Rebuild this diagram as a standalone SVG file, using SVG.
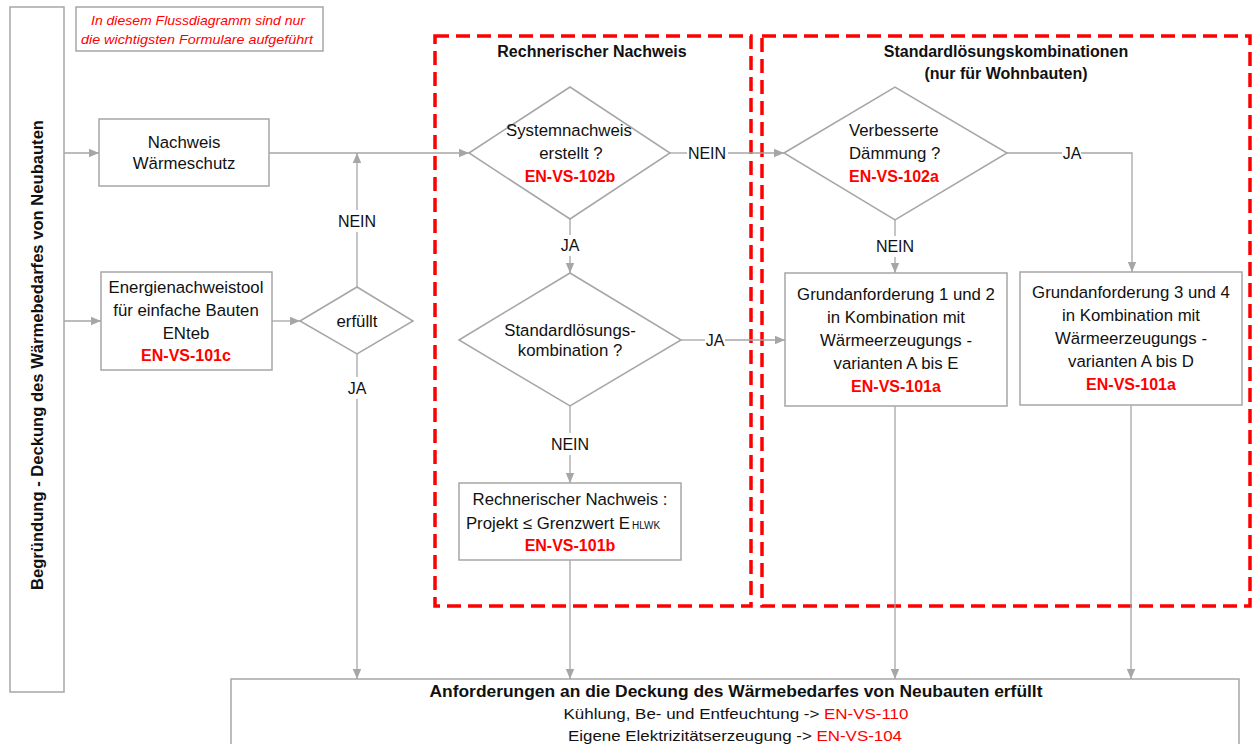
<svg xmlns="http://www.w3.org/2000/svg" width="1253" height="744" viewBox="0 0 1253 744">
<defs>
<marker id="arr" markerUnits="userSpaceOnUse" markerWidth="10" markerHeight="10" viewBox="0 0 10 10" refX="10" refY="5" orient="auto">
<path d="M0,0.8 L10,5 L0,9.2 Z" fill="#a6a6a6"/>
</marker>
<style>
.box{fill:#fff;stroke:#a6a6a6;stroke-width:1.5}
.dia{fill:#fff;stroke:#a6a6a6;stroke-width:1.5}
.con{fill:none;stroke:#a6a6a6;stroke-width:1.3}
.red{fill:none;stroke:#ff0000;stroke-width:3.5;stroke-dasharray:14 7}
.t{font-family:"Liberation Sans",Arial,sans-serif;font-size:16.8px;fill:#111;text-anchor:middle}
.b{font-weight:bold;font-size:16px}
.r{fill:#ff0000;font-weight:bold;font-size:16px}
.lbl{font-family:"Liberation Sans",Arial,sans-serif;font-size:16px;fill:#111;text-anchor:middle}
.note{font-family:"Liberation Sans",Arial,sans-serif;font-size:13px;font-style:italic;fill:#ff0000;text-anchor:middle}
</style>
</defs>
<rect width="1253" height="744" fill="#fff"/>

<g id="group-rechnerisch">
<rect class="red" x="435" y="36" width="316" height="570"/>
<text class="t b" x="592" y="57">Rechnerischer Nachweis</text>
</g>
<g id="group-standard">
<rect class="red" x="762" y="36" width="488" height="570"/>
<text class="t b" x="1006" y="57">Standardlösungskombinationen</text>
<text class="t b" x="1006" y="79">(nur für Wohnbauten)</text>
</g>

<g id="connectors">
<line class="con" x1="64" y1="153" x2="99" y2="153" marker-end="url(#arr)"/>
<line class="con" x1="64" y1="321" x2="101" y2="321" marker-end="url(#arr)"/>
<line class="con" x1="272" y1="321" x2="300" y2="321" marker-end="url(#arr)"/>
<line class="con" x1="357" y1="287" x2="357" y2="232"/>
<line class="con" x1="357" y1="210" x2="357" y2="153" marker-end="url(#arr)"/>
<line class="con" x1="357" y1="354" x2="357" y2="377"/>
<line class="con" x1="357" y1="399" x2="357" y2="679" marker-end="url(#arr)"/>
<line class="con" x1="269" y1="153" x2="469" y2="153" marker-end="url(#arr)"/>
<line class="con" x1="670" y1="153" x2="687" y2="153"/>
<line class="con" x1="728" y1="153" x2="784" y2="153" marker-end="url(#arr)"/>
<line class="con" x1="570" y1="219" x2="570" y2="235"/>
<line class="con" x1="570" y1="256" x2="570" y2="273" marker-end="url(#arr)"/>
<line class="con" x1="681" y1="340" x2="705" y2="340"/>
<line class="con" x1="725" y1="340" x2="785" y2="340" marker-end="url(#arr)"/>
<line class="con" x1="570" y1="406" x2="570" y2="433"/>
<line class="con" x1="570" y1="455" x2="570" y2="483" marker-end="url(#arr)"/>
<line class="con" x1="570" y1="560" x2="570" y2="679" marker-end="url(#arr)"/>
<line class="con" x1="1007" y1="153" x2="1062" y2="153"/>
<polyline class="con" points="1081,153 1132,153 1132,272" marker-end="url(#arr)"/>
<line class="con" x1="895" y1="220" x2="895" y2="236"/>
<line class="con" x1="895" y1="257" x2="895" y2="273" marker-end="url(#arr)"/>
<line class="con" x1="895" y1="406" x2="895" y2="679" marker-end="url(#arr)"/>
<line class="con" x1="1131" y1="405" x2="1131" y2="679" marker-end="url(#arr)"/>
<text class="lbl" x="357" y="227">NEIN</text>
<text class="lbl" x="357" y="394">JA</text>
<text class="lbl" x="707" y="159">NEIN</text>
<text class="lbl" x="570" y="251">JA</text>
<text class="lbl" x="715" y="346">JA</text>
<text class="lbl" x="570" y="450">NEIN</text>
<text class="lbl" x="1072" y="159">JA</text>
<text class="lbl" x="895" y="252">NEIN</text>
</g>

<g id="node-begruendung">
<rect class="box" x="10" y="7" width="54" height="685"/>
<text class="t b" transform="translate(43,355) rotate(-90)" x="0" y="0" textLength="470" lengthAdjust="spacingAndGlyphs">Begründung - Deckung des Wärmebedarfes von Neubauten</text>
</g>

<g id="node-note">
<rect class="box" x="76" y="7" width="247" height="44"/>
<text class="note" x="198" y="25" textLength="214" lengthAdjust="spacingAndGlyphs">In diesem Flussdiagramm sind nur</text>
<text class="note" x="197" y="44" textLength="232" lengthAdjust="spacingAndGlyphs">die wichtigsten Formulare aufgeführt</text>
</g>

<g id="node-nachweis-waermeschutz">
<rect class="box" x="99" y="119" width="170" height="67"/>
<text class="t" x="184" y="148">Nachweis</text>
<text class="t" x="184" y="169">Wärmeschutz</text>
</g>

<g id="node-enteb">
<rect class="box" x="101" y="272" width="171" height="98"/>
<text class="t" x="186" y="293">Energienachweistool</text>
<text class="t" x="186" y="316">für einfache Bauten</text>
<text class="t" x="186" y="339">ENteb</text>
<text class="t r" x="186" y="361">EN-VS-101c</text>
</g>

<g id="node-erfuellt">
<polygon class="dia" points="300,321 357,287 413,321 357,354"/>
<text class="t" x="357" y="327">erfüllt</text>
</g>

<g id="node-systemnachweis">
<polygon class="dia" points="469,153 570,87 670,153 570,219"/>
<text class="t" x="569" y="136">Systemnachweis</text>
<text class="t" x="571" y="159">erstellt ?</text>
<text class="t r" x="570" y="182">EN-VS-102b</text>
</g>

<g id="node-standardloesung">
<polygon class="dia" points="459,340 570,273 681,340 570,406"/>
<text class="t" x="570" y="336">Standardlösungs-</text>
<text class="t" x="570" y="356">kombination ?</text>
</g>

<g id="node-rechnerischer-nachweis">
<rect class="box" x="459" y="483" width="222" height="77"/>
<text class="t" x="570" y="505">Rechnerischer Nachweis  :</text>
<text class="t" x="563" y="529">Projekt ≤ Grenzwert E<tspan font-size="10px" dx="2">HLWK</tspan></text>
<text class="t r" x="570" y="551">EN-VS-101b</text>
</g>

<g id="node-verbesserte-daemmung">
<polygon class="dia" points="784,153 895,87 1007,153 895,220"/>
<text class="t" x="849" y="136" style="text-anchor:start">Verbesserte</text>
<text class="t" x="849" y="159" style="text-anchor:start">Dämmung ?</text>
<text class="t r" x="849" y="182" style="text-anchor:start">EN-VS-102a</text>
</g>

<g id="node-grund-1-2">
<rect class="box" x="785" y="273" width="222" height="133"/>
<text class="t" x="896" y="300">Grundanforderung 1 und 2</text>
<text class="t" x="896" y="323">in Kombination mit</text>
<text class="t" x="896" y="346">Wärmeerzeugungs -</text>
<text class="t" x="896" y="369">varianten A bis E</text>
<text class="t r" x="896" y="392">EN-VS-101a</text>
</g>

<g id="node-grund-3-4">
<rect class="box" x="1020" y="272" width="222" height="133"/>
<text class="t" x="1131" y="298">Grundanforderung 3 und 4</text>
<text class="t" x="1131" y="321">in Kombination mit</text>
<text class="t" x="1131" y="344">Wärmeerzeugungs -</text>
<text class="t" x="1131" y="367">varianten  A bis D</text>
<text class="t r" x="1131" y="390">EN-VS-101a</text>
</g>

<g id="node-anforderungen">
<rect class="box" x="231" y="679" width="1008" height="80"/>
<text class="t b" x="736" y="697" textLength="613" lengthAdjust="spacingAndGlyphs">Anforderungen an die Deckung des Wärmebedarfes von Neubauten erfüllt</text>
<text class="t" x="736" y="719" font-size="15" style="font-size:15px" textLength="345" lengthAdjust="spacingAndGlyphs">Kühlung, Be- und Entfeuchtung -&gt; <tspan fill="#ff0000">EN-VS-110</tspan></text>
<text class="t" x="735" y="741" style="font-size:15px" textLength="334" lengthAdjust="spacingAndGlyphs">Eigene Elektrizitätserzeugung  -&gt; <tspan fill="#ff0000">EN-VS-104</tspan></text>
</g>
</svg>
